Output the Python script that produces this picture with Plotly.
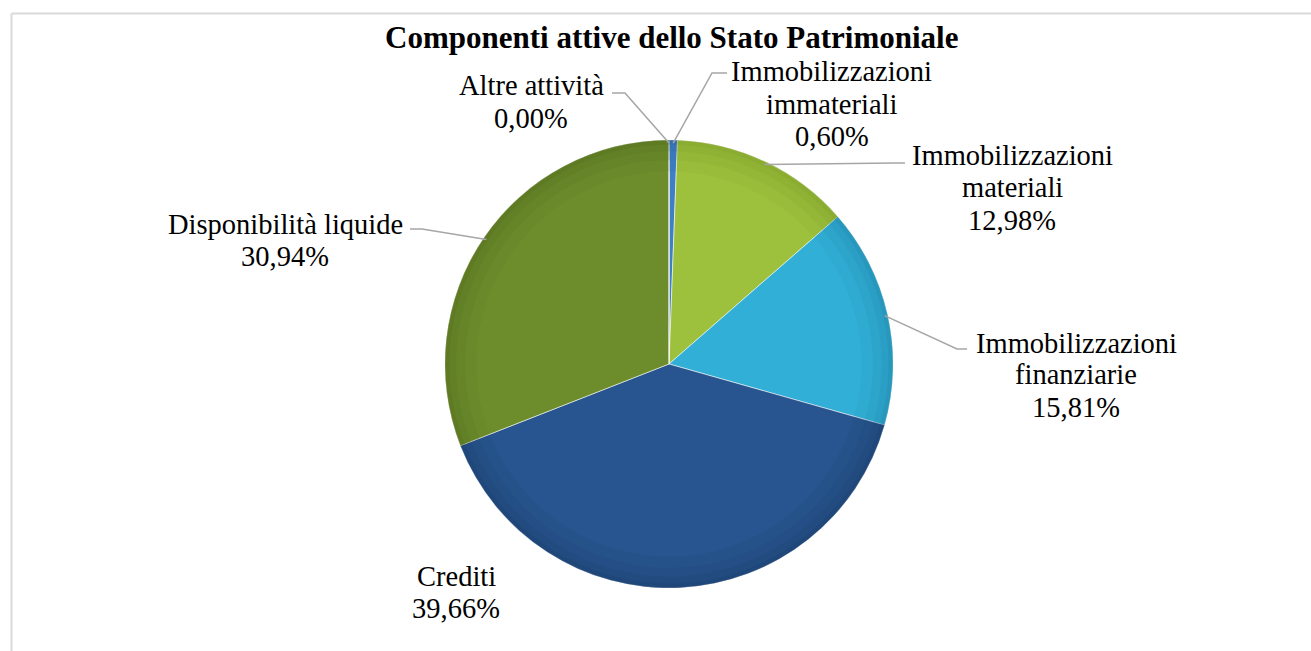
import math
import plotly.graph_objects as go

W, H = 1311, 651

# Asset components, clockwise from 12 o'clock
categories = [
    "Immobilizzazioni immateriali",
    "Immobilizzazioni materiali",
    "Immobilizzazioni finanziarie",
    "Crediti",
    "Disponibilità liquide",
    "Altre attività",
]
label_lines = [
    ["Immobilizzazioni", "immateriali"],
    ["Immobilizzazioni", "materiali"],
    ["Immobilizzazioni", "finanziarie"],
    ["Crediti"],
    ["Disponibilità liquide"],
    ["Altre attività"],
]
shares = [0.60, 12.98, 15.81, 39.66, 30.94, 0.00]
slice_colors = ["#3f7fc6", "#9dc13c", "#31afd6", "#28558f", "#6d8d2c", "#7f7f7f"]
rim_colors = ["#2f64a3", "#7f9f2c", "#2289ad", "#1c3f6e", "#56701f", "#666666"]

TITLE = "Componenti attive dello Stato Patrimoniale"
FONT = "Liberation Serif"
LINE_COLOR = "#a6a6a6"
LABEL_SIZE = 28.5
LINE_STEP = 32

# Pie geometry in pixels
CX, CY, R = 669, 364, 224


def px(x):
    return x / W


def py(y):
    return 1 - y / H


def pct_text(v):
    return f"{v:.2f}".replace(".", ",") + "%"


# Text block centre and leader elbow / end points (pixels) per slice
label_pos = [(832, 104), (1012, 188), (1076, 375), (456, 592), (285, 240), (531, 102)]
leader_path = [
    [(712, 73), (727, 73)],
    [(895, 163), (905, 163)],
    [(957, 349), (967, 349)],
    None,
    [(422, 229), (410, 229)],
    [(625, 93), (612, 93)],
]

domain = dict(x=[px(CX - R), px(CX + R)], y=[py(CY + R), py(CY - R)])

fig = go.Figure()
fig.add_trace(go.Pie(
    labels=categories,
    values=shares,
    sort=False,
    direction="clockwise",
    rotation=0,
    marker=dict(colors=slice_colors, line=dict(color="rgba(255,255,255,0.55)", width=1)),
    textinfo="none",
    hoverinfo="label+percent",
    showlegend=False,
    domain=domain,
))
# Stacked translucent rings darken the outer edge for a soft bevel
for hole, alpha in [(0.86, 0.12), (0.91, 0.15), (0.95, 0.2), (0.98, 0.3)]:
    fig.add_trace(go.Pie(
        labels=categories,
        values=shares,
        sort=False,
        direction="clockwise",
        rotation=0,
        hole=hole,
        opacity=alpha,
        marker=dict(colors=rim_colors, line=dict(width=0)),
        textinfo="none",
        hoverinfo="skip",
        showlegend=False,
        domain=domain,
    ))

shapes = []
annotations = []

# Leader lines start on the pie rim at each slice's mid angle
total = sum(shares)
cum = 0.0
for i, v in enumerate(shares):
    mid = (cum + v / 2) / total * 2 * math.pi
    cum += v
    path = leader_path[i]
    if path is not None:
        ex = CX + (R - 3) * math.sin(mid)
        ey = CY - (R - 3) * math.cos(mid)
        pts = [(ex, ey)] + path
        d = "M " + " L ".join(f"{px(x):.5f},{py(y):.5f}" for x, y in pts)
        shapes.append(dict(type="path", path=d, xref="paper", yref="paper",
                           line=dict(color=LINE_COLOR, width=1.5)))
    tx, ty = label_pos[i]
    lines = label_lines[i] + [pct_text(v)]
    n = len(lines)
    for k, line in enumerate(lines):
        ly = ty + (k - (n - 1) / 2) * LINE_STEP
        annotations.append(dict(
            x=px(tx), y=py(ly), xref="paper", yref="paper",
            text=line, showarrow=False, align="center",
            xanchor="center", yanchor="middle",
            font=dict(family=FONT, size=LABEL_SIZE, color="#000000"),
        ))

annotations.append(dict(
    x=px(671), y=py(37), xref="paper", yref="paper",
    text=f"<b>{TITLE}</b>", showarrow=False,
    xanchor="center", yanchor="middle",
    font=dict(family=FONT, size=31, color="#000000"),
))

# Chart frame (top and left edges)
shapes.append(dict(type="line", xref="paper", yref="paper",
                   x0=px(11.5), y0=py(13.5), x1=1, y1=py(13.5),
                   line=dict(color="#d9d9d9", width=2)))
shapes.append(dict(type="line", xref="paper", yref="paper",
                   x0=px(11.5), y0=py(13.5), x1=px(11.5), y1=0,
                   line=dict(color="#d9d9d9", width=2)))

fig.update_layout(
    width=W, height=H,
    margin=dict(l=0, r=0, t=0, b=0),
    paper_bgcolor="#ffffff",
    plot_bgcolor="#ffffff",
    shapes=shapes,
    annotations=annotations,
)

fig.write_html("out.html")
